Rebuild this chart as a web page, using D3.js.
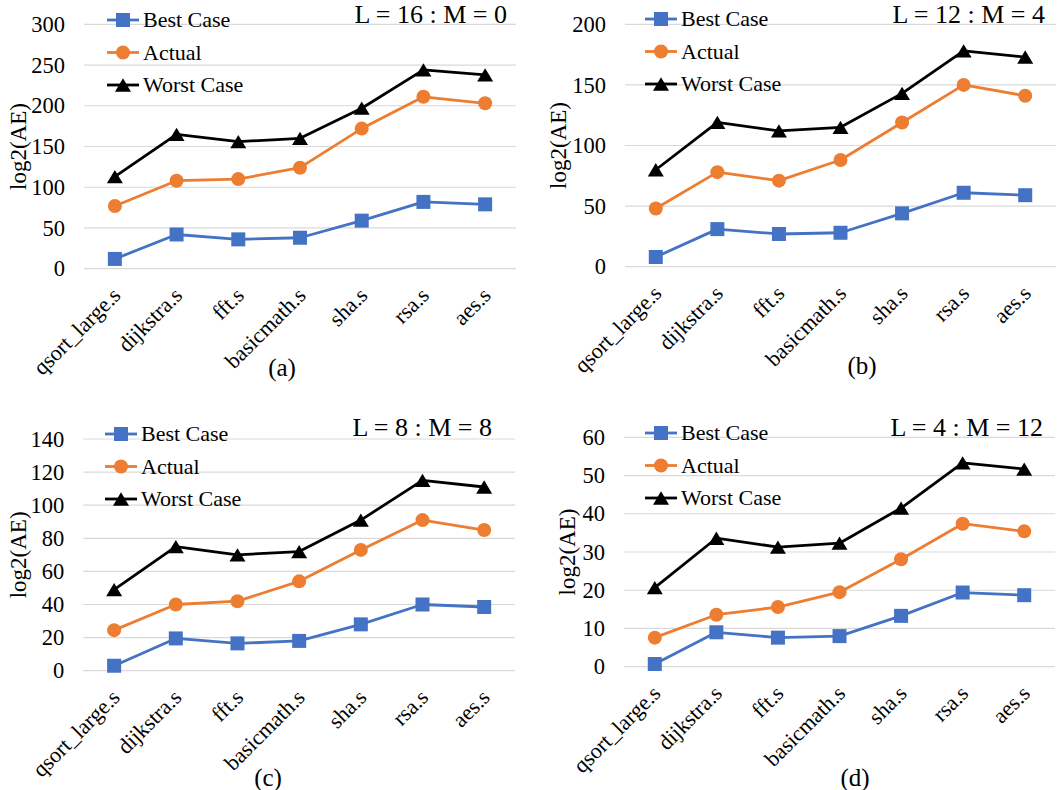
<!DOCTYPE html>
<html>
<head>
<meta charset="utf-8">
<script src="https://cdn.jsdelivr.net/npm/d3@7"></script>
<style>
  body { margin: 0; background: #fff; }
  svg text { font-family: "Liberation Serif", "DejaVu Serif", serif; }
</style>
</head>
<body>
<div id="chart"></div>
<script>
const categories = ["qsort_large.s", "dijkstra.s", "fft.s", "basicmath.s", "sha.s", "rsa.s", "aes.s"];
const seriesNames = ["Best Case", "Actual", "Worst Case"];

// (a) L = 16 : M = 0
const bestA = [12, 42, 36, 38, 59, 82, 79];
const actualA = [77, 108, 110, 124, 172, 211, 203];
const worstA = [113, 165, 156, 160, 197, 244, 238];
const ticksA = [0, 50, 100, 150, 200, 250, 300];

// (b) L = 12 : M = 4
const bestB = [8, 31, 27, 28, 44, 61, 59];
const actualB = [48, 78, 71, 88, 119, 150, 141];
const worstB = [80, 119, 112, 115, 143, 178, 173];
const ticksB = [0, 50, 100, 150, 200];

// (c) L = 8 : M = 8
const bestC = [3, 19.5, 16.5, 18, 28, 40, 38.5];
const actualC = [24.5, 40, 42, 54, 73, 91, 85];
const worstC = [49, 75, 70, 72, 91, 115, 111];
const ticksC = [0, 20, 40, 60, 80, 100, 120, 140];

// (d) L = 4 : M = 12
const bestD = [0.7, 9, 7.6, 8, 13.3, 19.4, 18.7];
const actualD = [7.6, 13.6, 15.6, 19.5, 28.1, 37.4, 35.4];
const worstD = [20.7, 33.6, 31.3, 32.3, 41.5, 53.3, 51.7];
const ticksD = [0, 10, 20, 30, 40, 50, 60];

const colors = ["#4472C4", "#ED7D31", "#000000"];
const serif = "'Liberation Serif', 'DejaVu Serif', serif";

const panels = [
    { series: [bestA, actualA, worstA], ticks: ticksA, title: "L = 16 : M = 0", caption: "(a)",
      left: 84, right: 516, top: 24.3, bottom: 268.7, titleX: 507, titleY: 22,
      legX: 107, legY: 20, labelX: 18, capX: 282, capY: 376 },
    { series: [bestB, actualB, worstB], ticks: ticksB, title: "L = 12 : M = 4", caption: "(b)",
      left: 625, right: 1056, top: 24.3, bottom: 266.7, titleX: 1045, titleY: 22,
      legX: 645, legY: 19, labelX: 558, capX: 862, capY: 374 },
    { series: [bestC, actualC, worstC], ticks: ticksC, title: "L = 8 : M = 8", caption: "(c)",
      left: 83.3, right: 515, top: 439, bottom: 670.7, titleX: 492, titleY: 435,
      legX: 105, legY: 434, labelX: 18, capX: 268, capY: 786 },
    { series: [bestD, actualD, worstD], ticks: ticksD, title: "L = 4 : M = 12", caption: "(d)",
      left: 624, right: 1055, top: 437.3, bottom: 666.7, titleX: 1043, titleY: 435,
      legX: 645, legY: 433, labelX: 567, capX: 855, capY: 786 }
];

const svg = d3.select("#chart")
    .append("svg")
    .attr("width", 1061)
    .attr("height", 790);

// marker shapes: square, circle, triangle
function marker(g, i, size) {
    if (i === 0) {
        g.append("rect").attr("x", -size / 2).attr("y", -size / 2)
            .attr("width", size).attr("height", size).attr("fill", colors[0]);
    } else if (i === 1) {
        g.append("circle").attr("r", size / 2).attr("fill", colors[1]);
    } else {
        const h = size * 0.95;
        g.append("path")
            .attr("d", `M0,${-h / 2}L${size / 2 + 1},${h / 2}L${-size / 2 - 1},${h / 2}Z`)
            .attr("fill", colors[2]);
    }
}

panels.forEach(p => {
    const x = d3.scaleBand().domain(categories).range([p.left, p.right]);
    const y = d3.scaleLinear().domain([0, d3.max(p.ticks)]).range([p.bottom, p.top]);

    // gridlines
    svg.append("g")
        .selectAll("line")
        .data(p.ticks)
        .enter()
        .append("line")
        .attr("x1", p.left)
        .attr("x2", p.right)
        .attr("y1", d => y(d))
        .attr("y2", d => y(d))
        .attr("stroke", "#d9d9d9")
        .attr("stroke-width", 1.2);

    // y axis
    const yAxis = svg.append("g")
        .attr("transform", `translate(${p.left},0)`)
        .call(d3.axisLeft(y).tickValues(p.ticks).tickSize(0).tickPadding(19))
        .attr("font-family", serif);
    yAxis.select(".domain").remove();
    yAxis.selectAll("text")
        .style("font-family", serif)
        .attr("font-size", 22.5)
        .attr("fill", "#000");

    // x axis
    const xAxis = svg.append("g")
        .attr("transform", `translate(0,${p.bottom})`)
        .call(d3.axisBottom(x).tickSize(0))
        .attr("font-family", serif);
    xAxis.select(".domain").remove();
    xAxis.selectAll("text")
        .style("font-family", serif)
        .attr("font-size", 22)
        .attr("fill", "#000")
        .attr("y", 0)
        .attr("dy", 0)
        .attr("text-anchor", "end")
        .attr("transform", "translate(7,28) rotate(-45)");

    // y axis label
    svg.append("text")
        .attr("transform", `translate(${p.labelX},${(p.top + p.bottom) / 2}) rotate(-90)`)
        .attr("text-anchor", "middle")
        .attr("dy", "0.35em")
        .style("font-family", serif)
        .attr("font-size", 23)
        .text("log2(AE)");

    // lines and markers
    p.series.forEach((vals, i) => {
        const line = d3.line()
            .x((d, j) => x(categories[j]) + x.bandwidth() / 2)
            .y(d => y(d));
        svg.append("path")
            .datum(vals)
            .attr("d", line)
            .attr("fill", "none")
            .attr("stroke", colors[i])
            .attr("stroke-width", 2.8)
            .attr("stroke-linejoin", "round");
        vals.forEach((v, j) => {
            const g = svg.append("g")
                .attr("transform", `translate(${x(categories[j]) + x.bandwidth() / 2},${y(v)})`);
            marker(g, i, 14);
        });
    });

    // legend
    seriesNames.forEach((name, i) => {
        const ly = p.legY + i * 32.5;
        svg.append("line")
            .attr("x1", p.legX).attr("x2", p.legX + 32)
            .attr("y1", ly).attr("y2", ly)
            .attr("stroke", colors[i]).attr("stroke-width", 2.8);
        const g = svg.append("g").attr("transform", `translate(${p.legX + 16},${ly})`);
        marker(g, i, 14);
        svg.append("text")
            .attr("x", p.legX + 36)
            .attr("y", ly)
            .attr("dy", "0.33em")
            .style("font-family", serif)
            .attr("font-size", 22)
            .text(name);
    });

    // panel title
    svg.append("text")
        .attr("x", p.titleX)
        .attr("y", p.titleY + 1)
        .attr("text-anchor", "end")
        .style("font-family", serif)
        .attr("font-size", 26)
        .text(p.title);

    // caption
    svg.append("text")
        .attr("x", p.capX)
        .attr("y", p.capY)
        .attr("text-anchor", "middle")
        .style("font-family", serif)
        .attr("font-size", 25)
        .text(p.caption);
});
</script>
</body>
</html>
